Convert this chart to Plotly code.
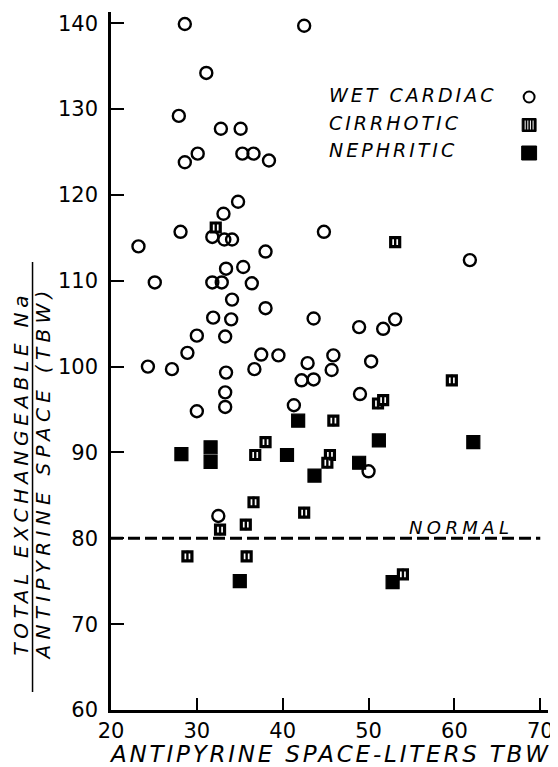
import plotly.graph_objects as go

# ---- data ----
cardiac_x = [28.6, 42.5, 31.1, 27.9, 32.8, 35.1, 30.1, 28.6, 35.3, 36.6, 38.4, 34.8, 33.1, 28.1,
             44.8, 31.8, 33.2, 34.1, 23.2, 38.0, 33.4, 35.4, 25.1, 31.8, 32.9, 36.4, 34.1, 38.0,
             31.9, 34.0, 43.6, 30.0, 33.3, 28.9, 37.5, 39.5, 24.3, 27.1, 33.4, 36.7, 42.9, 42.2,
             43.6, 33.3, 33.3, 30.0, 41.3, 48.9, 51.7, 53.1, 45.9, 45.7, 50.3, 49.0, 61.8, 32.5, 50.0]
cardiac_y = [139.9, 139.7, 134.2, 129.2, 127.7, 127.7, 124.8, 123.8, 124.8, 124.8, 124.0, 119.2, 117.8, 115.7,
             115.7, 115.1, 114.8, 114.8, 114.0, 113.4, 111.4, 111.6, 109.8, 109.8, 109.8, 109.7, 107.8, 106.8,
             105.7, 105.5, 105.6, 103.6, 103.5, 101.6, 101.4, 101.3, 100.0, 99.7, 99.3, 99.7, 100.4, 98.4,
             98.5, 97.0, 95.3, 94.8, 95.5, 104.6, 104.4, 105.5, 101.3, 99.6, 100.6, 96.8, 112.4, 82.6, 87.8]

cirrhotic_x = [32.2, 53.1, 59.7, 51.1, 51.7, 45.9, 38.0, 36.8, 45.5, 45.2, 36.6, 42.5, 35.7, 32.7, 28.9, 35.8, 54.0]
cirrhotic_y = [116.2, 114.5, 98.4, 95.7, 96.1, 93.7, 91.2, 89.7, 89.7, 88.8, 84.2, 83.0, 81.6, 81.0, 77.9, 77.9, 75.8]

nephritic_x = [41.8, 28.2, 31.6, 31.6, 40.5, 43.7, 35.0, 51.2, 62.2, 48.9, 52.8]
nephritic_y = [93.7, 89.8, 90.6, 88.9, 89.7, 87.3, 75.0, 91.4, 91.2, 88.8, 74.9]

normal_value = 80
normal_span = [20, 70]

x_ticks = [20, 30, 40, 50, 60, 70]
y_ticks = [60, 70, 80, 90, 100, 110, 120, 130, 140]

legend_names = ["WET CARDIAC", "CIRRHOTIC", "NEPHRITIC"]

# ---- geometry helpers (reference pixels -> paper); page body has an 8px margin ----
OFF = 8
W, H = 558 - OFF, 767 - OFF
L, R, T, B = 111 - OFF, 7, 12 - OFF, 57
PW, PH = W - L - R, H - T - B


def px2x(px):
    return (px - OFF - L) / PW


def py2y(py):
    return (H - B - (py - OFF)) / PH


FONT = "DejaVu Sans"

fig = go.Figure()

fig.add_trace(go.Scatter(
    x=cardiac_x, y=cardiac_y, mode="markers", name=legend_names[0],
    marker=dict(symbol="circle-open", size=12, color="black", line=dict(width=2.4, color="black")),
    showlegend=False))

# cirrhotic: striped square = thick black outline + black centre bar
fig.add_trace(go.Scatter(
    x=cirrhotic_x, y=cirrhotic_y, mode="markers", name=legend_names[1],
    marker=dict(symbol="square", size=9, color="white", line=dict(width=3.2, color="black")),
    showlegend=False))
fig.add_trace(go.Scatter(
    x=cirrhotic_x, y=cirrhotic_y, mode="markers", name=legend_names[1] + " stripes",
    marker=dict(symbol="line-ns-open", size=8, color="black", line=dict(width=2.4, color="black")),
    hoverinfo="skip", showlegend=False))

fig.add_trace(go.Scatter(
    x=nephritic_x, y=nephritic_y, mode="markers", name=legend_names[2],
    marker=dict(symbol="square", size=13, color="black", line=dict(width=1.2, color="black")),
    showlegend=False))

# normal line
fig.add_shape(type="line", xref="x", yref="y", x0=normal_span[0], x1=normal_span[1],
              y0=normal_value, y1=normal_value,
              line=dict(color="black", width=3, dash="12px,5px"))

ann = []


def spaced(t, sp):
    return f'<span style="letter-spacing:{sp}px">{t}</span>'


ann.append(dict(text=spaced("NORMAL", 4.4), xref="paper", yref="paper", x=px2x(463), y=py2y(527),
                xanchor="center", yanchor="middle", showarrow=False,
                font=dict(family=FONT, size=18, color="black", style="italic")))

# legend texts
for name, py in zip(legend_names, [95, 123, 150]):
    ann.append(dict(text=spaced(name, 3.0), xref="paper", yref="paper", x=px2x(328), y=py2y(py),
                    xanchor="left", yanchor="middle", showarrow=False,
                    font=dict(family=FONT, size=19, color="black", style="italic")))

# x title
ann.append(dict(text=spaced("ANTIPYRINE SPACE-LITERS TBW", 2.8), xref="paper", yref="paper",
                x=px2x(332), y=py2y(754), xanchor="center", yanchor="middle", showarrow=False,
                font=dict(family=FONT, size=23, color="black", style="italic")))

# y title (fraction)
ann.append(dict(text=spaced("TOTAL EXCHANGEABLE Na", 4.7), xref="paper", yref="paper",
                x=px2x(20), y=py2y(473), xanchor="center", yanchor="middle", textangle=-90,
                showarrow=False, font=dict(family=FONT, size=20, color="black", style="italic")))
ann.append(dict(text=spaced("ANTIPYRINE SPACE (TBW)", 5.3), xref="paper", yref="paper",
                x=px2x(43), y=py2y(473), xanchor="center", yanchor="middle", textangle=-90,
                showarrow=False, font=dict(family=FONT, size=20, color="black", style="italic")))

shapes = []
shapes.append(dict(type="line", xref="paper", yref="paper", x0=px2x(32), x1=px2x(32),
                   y0=py2y(262), y1=py2y(692), line=dict(color="black", width=1.5)))

# legend keys
cx = 532
shapes.append(dict(type="circle", xref="paper", yref="paper", x0=px2x(cx - 5.5), x1=px2x(cx + 5.5),
                   y0=py2y(97 + 5.5), y1=py2y(97 - 5.5), line=dict(color="black", width=2)))
shapes.append(dict(type="rect", xref="paper", yref="paper", x0=px2x(cx - 7), x1=px2x(cx + 7),
                   y0=py2y(125 + 6.5), y1=py2y(125 - 6.5), fillcolor="black", line=dict(color="black", width=1)))
for dx in [-4, -1.3, 1.3, 4]:
    shapes.append(dict(type="line", xref="paper", yref="paper", x0=px2x(cx + dx), x1=px2x(cx + dx),
                       y0=py2y(125 + 4.5), y1=py2y(125 - 4.5), line=dict(color="white", width=1)))
shapes.append(dict(type="rect", xref="paper", yref="paper", x0=px2x(cx - 7.5), x1=px2x(cx + 7.5),
                   y0=py2y(153 + 7), y1=py2y(153 - 7), fillcolor="black", line=dict(color="black", width=1)))

fig.update_layout(
    width=W, height=H,
    margin=dict(l=L, r=R, t=T, b=B, pad=0),
    paper_bgcolor="white", plot_bgcolor="white",
    annotations=ann,
    xaxis=dict(range=[20, 70.9], tickvals=x_ticks, ticktext=[str(v) for v in x_ticks],
               ticks="inside", ticklen=12, tickwidth=2, tickcolor="black",
               showline=True, linewidth=2.5, linecolor="black", showgrid=False, zeroline=False,
               tickfont=dict(family=FONT, size=21, color="black"), ticklabelstandoff=0),
    yaxis=dict(range=[60, 141.3], tickvals=y_ticks, ticktext=[str(v) for v in y_ticks],
               ticks="inside", ticklen=13, tickwidth=2, tickcolor="black",
               showline=True, linewidth=2.5, linecolor="black", showgrid=False, zeroline=False,
               tickfont=dict(family=FONT, size=21, color="black"), ticklabelstandoff=6),
)
for s in shapes:
    fig.add_shape(**s)

fig.write_html("out.html")
